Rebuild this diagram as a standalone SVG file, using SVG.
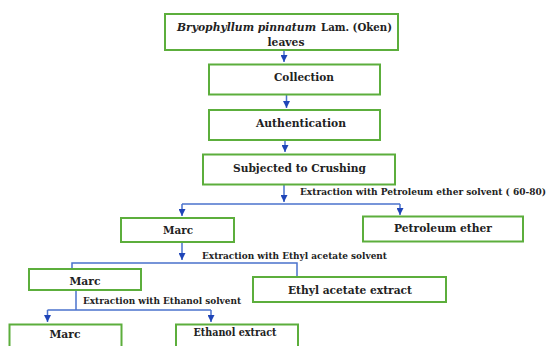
<svg xmlns="http://www.w3.org/2000/svg" width="548" height="346" viewBox="0 0 548 346">
<defs>
<marker id="arr" viewBox="0 0 8 7" markerWidth="8" markerHeight="7" refX="7" refY="3.5" orient="auto" markerUnits="userSpaceOnUse">
<path d="M0,0 L7,3.5 L0,7 Z" fill="#1f45b8"/>
</marker>
</defs>
<style>
.box{fill:#fff;stroke:#5cae3c;stroke-width:2}
.t{font-family:"DejaVu Serif","Liberation Serif",serif;font-weight:bold;font-size:11.5px;fill:#222;text-anchor:middle;dominant-baseline:central}
.s{text-anchor:start}
.lbl{font-family:"DejaVu Serif","Liberation Serif",serif;font-weight:bold;font-size:9px;fill:#222;dominant-baseline:central}
.c{fill:none;stroke:#4a72cc;stroke-width:1.5}
.a{fill:none;stroke:#4a72cc;stroke-width:1.5;marker-end:url(#arr)}
</style>
<rect width="548" height="346" fill="#fff"/>
<g id="connectors">
<path class="a" d="M284,50 V62"/>
<path class="a" d="M286.5,95 V108"/>
<path class="a" d="M285,140 V152"/>
<path class="a" d="M284,184 V202"/>
<path class="c" d="M182,204 H400"/>
<path class="a" d="M182,204 V216"/>
<path class="a" d="M400,204 V215"/>
<path class="a" d="M182,242 V260"/>
<path class="c" d="M72,269 V263 H297 V277"/>
<path class="c" d="M76,290 V310"/>
<path class="c" d="M47.5,310 H211"/>
<path class="a" d="M47.5,310 V322"/>
<path class="a" d="M211,310 V322"/>
<text class="lbl" x="300" y="192" textLength="246" lengthAdjust="spacingAndGlyphs">Extraction with Petroleum ether solvent ( 60-80)</text>
<text class="lbl" x="202" y="256" textLength="185" lengthAdjust="spacingAndGlyphs">Extraction with Ethyl acetate solvent</text>
<text class="lbl" x="83" y="301" textLength="158" lengthAdjust="spacingAndGlyphs">Extraction with Ethanol solvent</text>
</g>
<g id="n-start">
<rect class="box" x="165" y="14" width="233" height="36"/>
<text class="t s" x="177" y="26.5" font-size="11px" font-style="italic" textLength="139" lengthAdjust="spacingAndGlyphs">Bryophyllum pinnatum</text>
<text class="t s" x="321" y="26.5" font-size="11px" textLength="71" lengthAdjust="spacingAndGlyphs">Lam. (Oken)</text>
<text class="t" x="286" y="42" font-size="11px" textLength="37" lengthAdjust="spacingAndGlyphs">leaves</text>
</g>
<g id="n-collection">
<rect class="box" x="209" y="64.5" width="171" height="30"/>
<text class="t" x="304" y="77" textLength="60" lengthAdjust="spacingAndGlyphs">Collection</text>
</g>
<g id="n-auth">
<rect class="box" x="209" y="110" width="171" height="30"/>
<text class="t" x="301" y="123" textLength="90" lengthAdjust="spacingAndGlyphs">Authentication</text>
</g>
<g id="n-crushing">
<rect class="box" x="203" y="154.5" width="192" height="30"/>
<text class="t" x="299.5" y="168" textLength="133" lengthAdjust="spacingAndGlyphs">Subjected to Crushing</text>
</g>
<g id="n-marc1">
<rect class="box" x="121" y="218" width="113" height="24"/>
<text class="t" x="178" y="230" textLength="30" lengthAdjust="spacingAndGlyphs">Marc</text>
</g>
<g id="n-petroleum">
<rect class="box" x="363" y="216.5" width="160" height="25"/>
<text class="t" x="443" y="228" textLength="98" lengthAdjust="spacingAndGlyphs">Petroleum ether</text>
</g>
<g id="n-marc2">
<rect class="box" x="29" y="269" width="112" height="21"/>
<text class="t" x="85" y="280.5" textLength="31" lengthAdjust="spacingAndGlyphs">Marc</text>
</g>
<g id="n-ethyl">
<rect class="box" x="253" y="277" width="193" height="25"/>
<text class="t" x="350" y="289.5" textLength="124" lengthAdjust="spacingAndGlyphs">Ethyl acetate extract</text>
</g>
<g id="n-marc3">
<rect class="box" x="9.5" y="324.5" width="112" height="30"/>
<text class="t" x="65" y="333.5" textLength="31" lengthAdjust="spacingAndGlyphs">Marc</text>
</g>
<g id="n-ethanol">
<rect class="box" x="176" y="324.5" width="122" height="30"/>
<text class="t" x="235" y="332" textLength="83" lengthAdjust="spacingAndGlyphs">Ethanol extract</text>
</g>
</svg>
